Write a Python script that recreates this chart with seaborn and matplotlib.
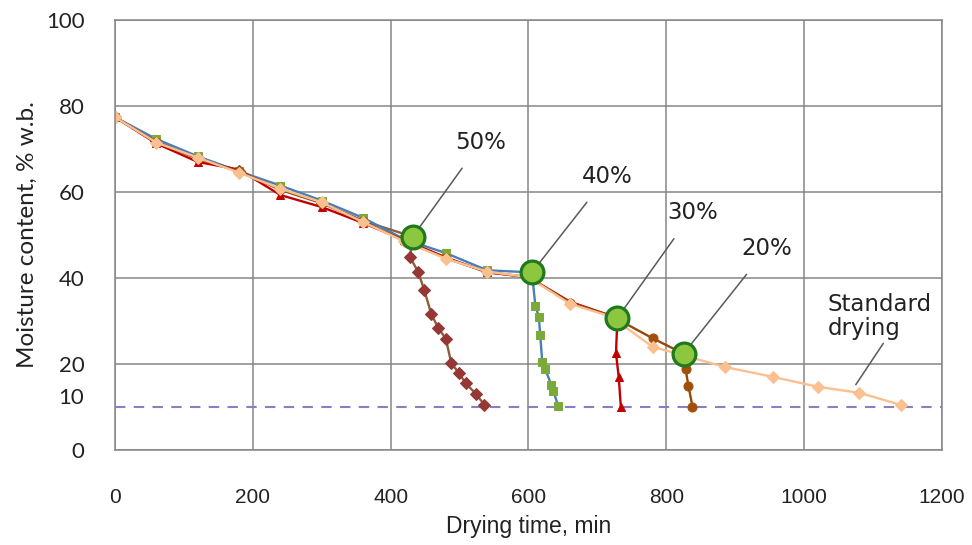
import numpy as np
import pandas as pd
import matplotlib
matplotlib.use("Agg")
import matplotlib.pyplot as plt
import matplotlib.transforms as mtransforms
import seaborn as sns

sns.set_style("white")
plt.rcParams['font.family'] = ['DejaVu Sans']

# ---------------------------------------------------------------------------
# Data
# ---------------------------------------------------------------------------
t_std = [0, 60, 120, 180, 240, 300, 360, 420, 480, 540, 600, 660, 720, 780,
         825, 885, 955, 1020, 1080, 1140]
mc_std = [77.4, 71.5, 68.0, 64.5, 60.8, 57.6, 53.0, 48.5, 44.5, 41.5, 40.2,
          34.0, 31.0, 24.0, 22.0, 19.3, 17.0, 14.7, 13.3, 10.5]

t_50 = [0, 60, 120, 180, 240, 300, 360, 432, 428, 440, 449, 459, 469, 480,
        488, 499, 509, 524, 536]
mc_50 = [77.4, 71.8, 67.8, 65.0, 60.5, 57.4, 53.3, 49.6, 44.9, 41.4, 37.1,
         31.6, 28.4, 25.9, 20.2, 17.9, 15.5, 13.0, 10.5]

t_40 = [0, 60, 120, 180, 240, 300, 360, 420, 480, 540, 605, 610, 615, 617,
        620, 624, 633, 636, 643]
mc_40 = [77.4, 72.3, 68.3, 64.8, 61.5, 58.0, 54.0, 49.0, 45.8, 41.8, 41.3,
         33.5, 31.0, 26.8, 20.5, 18.9, 15.2, 13.8, 10.3]

t_30 = [0, 60, 120, 180, 240, 300, 360, 420, 480, 540, 600, 660, 729, 727,
        731, 734]
mc_30 = [77.4, 71.3, 67.0, 65.2, 59.3, 56.5, 52.8, 48.8, 44.8, 41.3, 40.2,
         34.5, 30.7, 22.5, 16.9, 10.1]

t_20 = [0, 60, 120, 180, 240, 300, 360, 420, 480, 540, 600, 660, 720, 780,
        825, 828, 832, 838]
mc_20 = [77.4, 71.6, 67.8, 64.8, 60.6, 57.5, 53.2, 48.6, 44.6, 41.4, 40.2,
         34.3, 31.2, 26.0, 22.4, 18.8, 15.0, 10.1]

# switching points (green circles) and their labels
t_switch = [432, 605, 729, 825]
mc_switch = [49.6, 41.3, 30.7, 22.4]
switch_labels = ['50%', '40%', '30%', '20%']
label_pos = [(531, 71.6), (714, 63.6), (838, 55.2), (946, 46.8)]

final_mc = 10
y_ticks = [0, 10, 20, 40, 60, 80, 100]
x_ticks = [0, 200, 400, 600, 800, 1000, 1200]

# ---------------------------------------------------------------------------
fig = plt.figure(figsize=(9.72, 5.45), dpi=100)
ax = fig.add_axes([0.1183, 0.1743, 0.8508, 0.789])

series = [
    (t_50, mc_50, '#8b5e3c', '#953735', 'D', 6.5),
    (t_40, mc_40, '#4a7ebb', '#7aab3a', 's', 6),
    (t_30, mc_30, '#c00000', '#c00000', '^', 6),
    (t_20, mc_20, '#984807', '#a0500c', 'o', 6.5),
    (t_std, mc_std, '#fac090', '#fac090', 'D', 6.5),
]
for t, mc, lc, mcol, mk, ms in series:
    sns.lineplot(x=t, y=mc, sort=False, estimator=None, ax=ax, color=lc,
                 linewidth=1.7, marker=mk, markersize=ms,
                 markerfacecolor=mcol, markeredgecolor=mcol)

ax.axhline(final_mc, color='#8e7cc3', linestyle=(0, (5, 4)), linewidth=1.5,
           zorder=1)

sns.scatterplot(x=t_switch, y=mc_switch, ax=ax, s=270, color='#8dc63f',
                edgecolor='#1f7a1f', linewidth=2.3, zorder=5)

for (tx, ty), lab, xs, ys in zip(label_pos, switch_labels, t_switch, mc_switch):
    ax.annotate(lab, xy=(xs, ys), xytext=(tx, ty), ha='center', va='center',
                fontsize=16.5, color='#222222',
                arrowprops=dict(arrowstyle='-', color='#595959', lw=1.1,
                                shrinkA=10, shrinkB=8))

ax.annotate('Standard\ndrying', xy=(1075, 15.2), xytext=(1034, 31),
            ha='left', va='center', fontsize=16.5, color='#222222',
            linespacing=1.05,
            arrowprops=dict(arrowstyle='-', color='#595959', lw=1.1,
                            shrinkA=0, shrinkB=0,
                            relpos=(0.58, 0.08)))

ax.set_xlim(0, 1200)
ax.set_ylim(0, 100)
ax.set_xticks(x_ticks)
ax.set_yticks(y_ticks)
ax.set_xticklabels([str(v) for v in x_ticks],
                   family=['Liberation Sans Narrow', 'Liberation Sans'],
                   fontsize=15)
ax.set_yticklabels([str(v) for v in y_ticks], family=['Lato', 'DejaVu Sans'],
                   fontsize=16)
ax.tick_params(axis='x', length=0, pad=27, colors='#222222')
ax.tick_params(axis='y', length=0, pad=22, colors='#222222')

# "10" sits a little above the dashed line in the original
for lbl in ax.get_yticklabels():
    if lbl.get_text() == '10':
        lbl.set_transform(lbl.get_transform() +
                          mtransforms.ScaledTranslation(0, 8 / 72,
                                                        fig.dpi_scale_trans))

ax.grid(True, color='#868686', linewidth=1.1)
for gl, v in zip(ax.get_ygridlines(), y_ticks):
    if v == 10:
        gl.set_visible(False)
ax.set_axisbelow(True)
for sp in ax.spines.values():
    sp.set_color('#868686')
    sp.set_linewidth(1.1)

ax.set_xlabel('Drying time, min', fontsize=16.5, color='#222222', labelpad=6,
              family=['Liberation Sans Narrow', 'Liberation Sans'])
ax.set_ylabel('Moisture content, % w.b.', fontsize=17.5, color='#222222',
              labelpad=6, family=['Lato', 'DejaVu Sans'])

fig.savefig('out.png', dpi=100, facecolor='white')
